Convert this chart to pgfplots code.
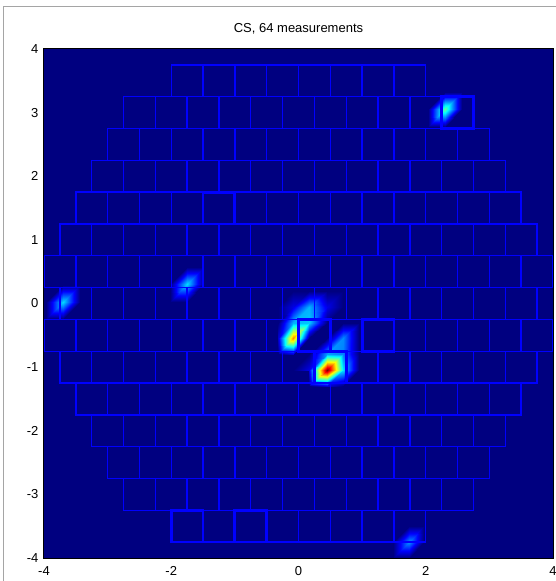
\documentclass[border=0pt]{standalone}
\usepackage{fontspec}
\setmainfont{Liberation Sans}
\usepackage{pgfplots}
\pgfplotsset{compat=1.18}
\usepgfplotslibrary{patchplots}
\usepackage{pgfplotstable}
\definecolor{navyjet}{RGB}{0,0,128}
\definecolor{framegray}{RGB}{165,165,165}
\definecolor{tileblue}{RGB}{0,0,255}

% triangles of the interpolated intensity field (3 rows per triangle): x y value
\pgfplotstableread{
x y c
-0.33 -0.05 0
-0.08 -0.05 0.10
-0.08 0.20 0
-0.08 -0.05 0.10
0.17 -0.05 0.30
0.17 0.20 0
-0.08 -0.05 0.10
0.17 0.20 0
-0.08 0.20 0
0.17 -0.05 0.30
0.45 -0.05 0.10
0.45 0.20 0
0.17 -0.05 0.30
0.45 0.20 0
0.17 0.20 0
0.45 -0.05 0.10
0.70 -0.05 0
0.70 0.20 0
0.45 -0.05 0.10
0.70 0.20 0
0.45 0.20 0
-0.33 -0.30 0
-0.08 -0.30 0.30
-0.08 -0.05 0.10
-0.33 -0.30 0
-0.08 -0.05 0.10
-0.33 -0.05 0
-0.08 -0.30 0.30
0.17 -0.30 0.32
0.17 -0.05 0.30
-0.08 -0.30 0.30
0.17 -0.05 0.30
-0.08 -0.05 0.10
0.17 -0.30 0.32
0.45 -0.30 0
0.45 -0.05 0.10
0.17 -0.30 0.32
0.45 -0.05 0.10
0.17 -0.05 0.30
0.45 -0.30 0
0.70 -0.05 0
0.45 -0.05 0.10
-0.33 -0.55 0.08
-0.08 -0.55 0.74
-0.08 -0.30 0.30
-0.33 -0.55 0.08
-0.08 -0.30 0.30
-0.33 -0.30 0
-0.08 -0.55 0.74
0.17 -0.55 0
0.17 -0.30 0.32
-0.08 -0.55 0.74
0.17 -0.30 0.32
-0.08 -0.30 0.30
0.17 -0.55 0
0.45 -0.30 0
0.17 -0.30 0.32
0.45 -0.55 0
0.70 -0.55 0.26
0.70 -0.30 0
0.70 -0.55 0.26
0.95 -0.55 0
0.95 -0.30 0
0.70 -0.55 0.26
0.95 -0.30 0
0.70 -0.30 0
-0.33 -0.80 0
-0.08 -0.80 0.08
-0.08 -0.55 0.74
-0.33 -0.80 0
-0.08 -0.55 0.74
-0.33 -0.55 0.08
-0.08 -0.80 0.08
0.17 -0.55 0
-0.08 -0.55 0.74
0.17 -0.80 0
0.45 -0.80 0.28
0.45 -0.55 0
0.45 -0.80 0.28
0.70 -0.80 0.25
0.70 -0.55 0.26
0.45 -0.80 0.28
0.70 -0.55 0.26
0.45 -0.55 0
0.70 -0.80 0.25
0.95 -0.80 0
0.95 -0.55 0
0.70 -0.80 0.25
0.95 -0.55 0
0.70 -0.55 0.26
-0.08 -1.05 0
0.17 -1.05 0.10
0.17 -0.80 0
0.17 -1.05 0.10
0.45 -1.05 1.00
0.45 -0.80 0.28
0.17 -1.05 0.10
0.45 -0.80 0.28
0.17 -0.80 0
0.45 -1.05 1.00
0.70 -1.05 0.35
0.70 -0.80 0.25
0.45 -1.05 1.00
0.70 -0.80 0.25
0.45 -0.80 0.28
0.70 -1.05 0.35
0.95 -1.05 0
0.95 -0.80 0
0.70 -1.05 0.35
0.95 -0.80 0
0.70 -0.80 0.25
0.17 -1.30 0
0.45 -1.30 0.08
0.45 -1.05 1.00
0.17 -1.30 0
0.45 -1.05 1.00
0.17 -1.05 0.10
0.45 -1.30 0.08
0.70 -1.30 0
0.70 -1.05 0.35
0.45 -1.30 0.08
0.70 -1.05 0.35
0.45 -1.05 1.00
0.70 -1.30 0
0.95 -1.05 0
0.70 -1.05 0.35
2.30 3.05 0.47
2.57 3.05 0
2.57 3.32 0
2.30 3.05 0.47
2.57 3.32 0
2.30 3.32 0
2.30 3.05 0.47
2.30 3.32 0
2.03 3.05 0
2.30 3.05 0.47
2.03 3.05 0
2.03 2.78 0
2.30 3.05 0.47
2.03 2.78 0
2.30 2.78 0
2.30 3.05 0.47
2.30 2.78 0
2.57 3.05 0
-3.70 0.02 0.34
-3.43 0.02 0
-3.43 0.29 0
-3.70 0.02 0.34
-3.43 0.29 0
-3.70 0.29 0
-3.70 0.02 0.34
-3.70 0.29 0
-3.97 0.02 0
-3.70 0.02 0.34
-3.97 0.02 0
-3.97 -0.25 0
-3.70 0.02 0.34
-3.97 -0.25 0
-3.70 -0.25 0
-3.70 0.02 0.34
-3.70 -0.25 0
-3.43 0.02 0
-1.75 0.30 0.34
-1.48 0.30 0
-1.48 0.57 0
-1.75 0.30 0.34
-1.48 0.57 0
-1.75 0.57 0
-1.75 0.30 0.34
-1.75 0.57 0
-2.02 0.30 0
-1.75 0.30 0.34
-2.02 0.30 0
-2.02 0.03 0
-1.75 0.30 0.34
-2.02 0.03 0
-1.75 0.03 0
-1.75 0.30 0.34
-1.75 0.03 0
-1.48 0.30 0
1.73 -3.75 0.27
1.98 -3.75 0
1.98 -3.50 0
1.73 -3.75 0.27
1.98 -3.50 0
1.73 -3.50 0
1.73 -3.75 0.27
1.73 -3.50 0
1.48 -3.75 0
1.73 -3.75 0.27
1.48 -3.75 0
1.48 -4.00 0
1.73 -3.75 0.27
1.48 -4.00 0
1.73 -4.00 0
1.73 -3.75 0.27
1.73 -4.00 0
1.98 -3.75 0
}\tris

\begin{document}
\begin{tikzpicture}
\useasboundingbox (-44pt,-23pt) rectangle (511pt,558pt);
\draw[framegray, line width=1pt] (-40pt,-30pt) -- (-40pt,551pt) -- (520pt,551pt);
\begin{axis}[
  at={(0pt,0pt)}, anchor=south west,
  scale only axis, width=509pt, height=509pt,
  xmin=-4, xmax=4, ymin=-4, ymax=4,
  xtick={-4,-2,0,2,4}, ytick={-4,-3,-2,-1,0,1,2,3,4},
  axis background/.style={fill=navyjet},
  colormap/jet, point meta min=0, point meta max=1,
  title={CS, 64 measurements},
  title style={at={(0.5,1)}, anchor=center, yshift=14pt, font=\fontsize{13}{15}\selectfont},
  tick label style={font=\fontsize{13}{15}\selectfont},
  /pgf/number format/assume math mode=true,
  xticklabel style={anchor=center, yshift=-13pt},
  yticklabel style={anchor=east, xshift=-2pt},
  major tick length=0pt,
  axis line style={black, line width=1pt},
  clip marker paths=true,
  axis on top,
]
\addplot[patch, patch type=triangle, shader=interp]
  table[x=x, y=y, point meta=\thisrow{c}] {\tris};

\addplot[only marks, mark=square, mark size=15.906pt,
  mark options={draw=tileblue, fill=none, line width=1.4pt}] coordinates {
(-1.75,3.5)(-1.25,3.5)(-0.75,3.5)(-0.25,3.5)(0.25,3.5)(0.75,3.5)(1.25,3.5)(1.75,3.5)
(-2.5,3)(-2,3)(-1.5,3)(-1,3)(-0.5,3)(0,3)(0.5,3)(1,3)(1.5,3)(2,3)(2.5,3)
(-2.75,2.5)(-2.25,2.5)(-1.75,2.5)(-1.25,2.5)(-0.75,2.5)(-0.25,2.5)(0.25,2.5)(0.75,2.5)(1.25,2.5)(1.75,2.5)(2.25,2.5)(2.75,2.5)
(-3,2)(-2.5,2)(-2,2)(-1.5,2)(-1,2)(-0.5,2)(0,2)(0.5,2)(1,2)(1.5,2)(2,2)(2.5,2)(3,2)
(-3.25,1.5)(-2.75,1.5)(-2.25,1.5)(-1.75,1.5)(-1.25,1.5)(-0.75,1.5)(-0.25,1.5)(0.25,1.5)(0.75,1.5)(1.25,1.5)(1.75,1.5)(2.25,1.5)(2.75,1.5)(3.25,1.5)
(-3.5,1)(-3,1)(-2.5,1)(-2,1)(-1.5,1)(-1,1)(-0.5,1)(0,1)(0.5,1)(1,1)(1.5,1)(2,1)(2.5,1)(3,1)(3.5,1)
(-3.75,0.5)(-3.25,0.5)(-2.75,0.5)(-2.25,0.5)(-1.75,0.5)(-1.25,0.5)(-0.75,0.5)(-0.25,0.5)(0.25,0.5)(0.75,0.5)(1.25,0.5)(1.75,0.5)(2.25,0.5)(2.75,0.5)(3.25,0.5)(3.75,0.5)
(-4,0)(-3.5,0)(-3,0)(-2.5,0)(-2,0)(-1.5,0)(-1,0)(-0.5,0)(0,0)(0.5,0)(1,0)(1.5,0)(2,0)(2.5,0)(3,0)(3.5,0)(4,0)
(-3.75,-0.5)(-3.25,-0.5)(-2.75,-0.5)(-2.25,-0.5)(-1.75,-0.5)(-1.25,-0.5)(-0.75,-0.5)(-0.25,-0.5)(0.25,-0.5)(0.75,-0.5)(1.25,-0.5)(1.75,-0.5)(2.25,-0.5)(2.75,-0.5)(3.25,-0.5)(3.75,-0.5)
(-3.5,-1)(-3,-1)(-2.5,-1)(-2,-1)(-1.5,-1)(-1,-1)(-0.5,-1)(0,-1)(0.5,-1)(1,-1)(1.5,-1)(2,-1)(2.5,-1)(3,-1)(3.5,-1)
(-3.25,-1.5)(-2.75,-1.5)(-2.25,-1.5)(-1.75,-1.5)(-1.25,-1.5)(-0.75,-1.5)(-0.25,-1.5)(0.25,-1.5)(0.75,-1.5)(1.25,-1.5)(1.75,-1.5)(2.25,-1.5)(2.75,-1.5)(3.25,-1.5)
(-3,-2)(-2.5,-2)(-2,-2)(-1.5,-2)(-1,-2)(-0.5,-2)(0,-2)(0.5,-2)(1,-2)(1.5,-2)(2,-2)(2.5,-2)(3,-2)
(-2.75,-2.5)(-2.25,-2.5)(-1.75,-2.5)(-1.25,-2.5)(-0.75,-2.5)(-0.25,-2.5)(0.25,-2.5)(0.75,-2.5)(1.25,-2.5)(1.75,-2.5)(2.25,-2.5)(2.75,-2.5)
(-2.5,-3)(-2,-3)(-1.5,-3)(-1,-3)(-0.5,-3)(0,-3)(0.5,-3)(1,-3)(1.5,-3)(2,-3)(2.5,-3)
(-1.75,-3.5)(-1.25,-3.5)(-0.75,-3.5)(-0.25,-3.5)(0.25,-3.5)(0.75,-3.5)(1.25,-3.5)(1.75,-3.5)
};

\addplot[only marks, mark=square, mark size=15.906pt,
  mark options={draw=tileblue, fill=none, line width=2.8pt}] coordinates {
(-1.25,1.5)(2.5,3)(0.25,-0.5)(1.25,-0.5)(0.5,-1)(-1.75,-3.5)(-0.75,-3.5)
};
\end{axis}
\end{tikzpicture}
\end{document}
